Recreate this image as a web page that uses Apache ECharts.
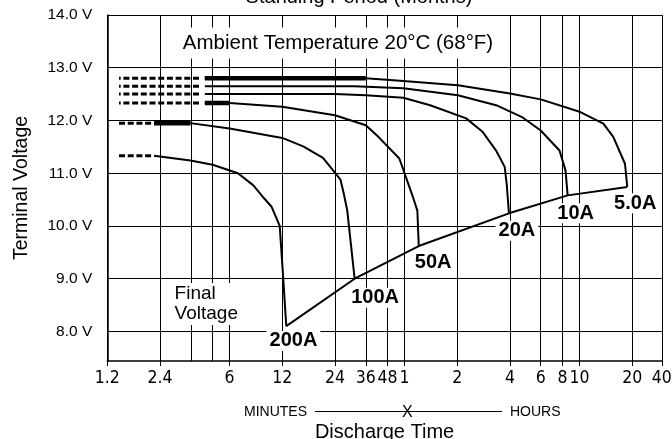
<!DOCTYPE html>
<html>
<head>
<meta charset="utf-8">
<title>Discharge Time vs Terminal Voltage</title>
<script src="https://cdn.jsdelivr.net/npm/echarts@6/dist/echarts.min.js"></script>
<style>
  html, body { margin: 0; padding: 0; background: #fff; }
  #chart { width: 672px; height: 439px; }
</style>
</head>
<body>
<div id="chart"></div>
<script>
// discharge time in minutes, terminal voltage in volts
const currents = ['5.0A', '10A', '20A', '50A', '100A', '200A']

const curve5A = [[4.33, 12.80], [36, 12.80], [59, 12.75], [121, 12.67], [240, 12.51], [360, 12.40], [607, 12.16], [821, 11.94], [935, 11.69], [1091, 11.18], [1124, 10.74]]
const curve10A = [[4.33, 12.65], [31, 12.65], [59, 12.61], [121, 12.48], [200, 12.29], [280, 12.07], [360, 11.81], [461, 11.43], [499, 11.05], [513, 10.58]]
const curve20A = [[4.33, 12.50], [24, 12.50], [36, 12.48], [59, 12.43], [84, 12.29], [135, 12.04], [168, 11.78], [200, 11.43], [224, 11.12], [230, 10.80], [237, 10.24]]
const curve50A = [[4.33, 12.33], [6, 12.33], [12, 12.26], [24, 12.10], [36, 11.91], [42.5, 11.69], [56, 11.28], [66, 10.61], [71, 10.29], [72.3, 9.62]]
const curve100A = [[2.22, 11.95], [3.58, 11.95], [6, 11.85], [12, 11.67], [15.8, 11.51], [20.5, 11.29], [24, 11.01], [25.8, 10.88], [27, 10.6], [28.2, 10.3], [31.1, 9.0]]
const curve200A = [[2.22, 11.33], [3.58, 11.24], [4.8, 11.16], [6.7, 11.0], [8.2, 10.77], [9.3, 10.55], [10.4, 10.37], [11.6, 10.0], [12.1, 9.1], [12.65, 8.1]]
const curves = [curve5A, curve10A, curve20A, curve50A, curve100A, curve200A]

// standing period (dashed) part of each curve
const standVolts = [12.80, 12.65, 12.50, 12.33, 11.95, 11.33]
const standStart = 1.40
const standEnd = [4.02, 4.02, 4.02, 4.02, 2.14, 2.14]

// heavy stroke at the start of some curves
const thickFrom = [4.33, null, null, 4.33, 2.22, null]
const thickTo = [36, null, null, 6, 3.58, null]

// label anchors [minutes, volts]
const curveLabelPos = [[1248, 10.43], [570, 10.24], [263, 9.91], [87.4, 9.30], [40.7, 8.64], [13.9, 7.82]]
const finalNotePos = [2.76, 8.52]

// axes
const xTicks = [1.2, 2.4, 6, 12, 24, 36, 48, 60, 120, 240, 360, 480, 600, 1200, 1771]
const xTickLabels = ['1.2', '2.4', '6', '12', '24', '36', '48', '1', '2', '4', '6', '8', '10', '20', '40']
const extraGrid = [3.6, 4.8]
const yTicks = [8, 9, 10, 11, 12, 13, 14]

const font = "'Liberation Sans', Arial, sans-serif"
const narrow = "'Liberation Sans Narrow', 'DejaVu Sans Condensed', 'Liberation Sans', Arial, sans-serif"

const chart = echarts.init(document.getElementById('chart'))

const series = []
curves.forEach((c, i) => {
  // 放置期 虚线
  series.push({
    type: 'line',
    data: [[standStart, standVolts[i]], [standEnd[i], standVolts[i]]],
    symbol: 'none',
    silent: true,
    lineStyle: { color: '#000', width: 3, type: [6, 2.7], dashOffset: i < 4 ? 4.3 : 0, cap: 'butt' }
  })
  series.push({
    type: 'line',
    data: c,
    symbol: 'none',
    silent: true,
    lineStyle: { color: '#000', width: 2 },
    markLine: i === 0 ? {
      symbol: 'none',
      silent: true,
      label: { show: false },
      lineStyle: { color: '#000', width: 1, type: 'solid' },
      data: extraGrid.map(v => ({ xAxis: v }))
    } : undefined
  })
  if (thickFrom[i] !== null) {
    series.push({
      type: 'line',
      data: [[thickFrom[i], standVolts[i]], [thickTo[i], standVolts[i]]],
      symbol: 'none',
      silent: true,
      lineStyle: { color: '#000', width: 4.5, cap: 'butt' }
    })
  }
})

// final voltage line through the curve end points
series.push({
  type: 'line',
  data: curves.map(c => c[c.length - 1]).reverse(),
  symbol: 'none',
  silent: true,
  lineStyle: { color: '#000', width: 2 }
})

// 标签
series.push({
  type: 'scatter',
  symbolSize: 0,
  silent: true,
  z: 5,
  itemStyle: { opacity: 1 },
  data: curveLabelPos.map((p, i) => ({ name: currents[i], value: p })),
  label: {
    show: true,
    position: 'inside',
    formatter: '{b}',
    color: '#000',
    opacity: 1,
    textBorderWidth: 0,
    fontFamily: font,
    fontSize: 20,
    fontWeight: 'bold',
    backgroundColor: '#fff',
    padding: [0, 3]
  }
})
series.push({
  type: 'scatter',
  symbolSize: 0,
  silent: true,
  z: 5,
  itemStyle: { opacity: 1 },
  data: [{ name: 'Final\nVoltage', value: finalNotePos }],
  label: {
    show: true,
    position: 'right',
    distance: 0,
    formatter: '{b}',
    align: 'left',
    color: '#000',
    opacity: 1,
    fontFamily: font,
    fontSize: 19,
    lineHeight: 20,
    backgroundColor: '#fff',
    padding: [1, 4]
  }
})

const option = {
  animation: false,
  title: [
    {
      text: 'Standing Period (Months)',
      left: 359,
      top: -13,
      textAlign: 'center',
      padding: 0,
      textStyle: { color: '#000', fontFamily: font, fontSize: 20, fontWeight: 'normal' }
    },
    {
      text: 'Ambient Temperature 20°C (68°F)',
      left: 330,
      top: 28,
      textAlign: 'center',
      padding: [5, 8],
      backgroundColor: '#fff',
      textStyle: { color: '#000', fontFamily: font, fontSize: 20.5, fontWeight: 'normal', lineHeight: 20 }
    }
  ],
  grid: { left: 107.3, right: 10.2, top: 15, bottom: 78, containLabel: false, outerBoundsMode: 'none' },
  xAxis: {
    type: 'log',
    logBase: 10,
    min: 1.1999,
    max: 1771.1,
    name: 'Discharge Time',
    nameLocation: 'middle',
    nameGap: 61,
    nameTextStyle: { color: '#000', fontFamily: font, fontSize: 20 },
    axisLine: { show: true, lineStyle: { color: '#000', width: 1.5 } },
    axisTick: { show: true, length: 5, lineStyle: { color: '#000' }, customValues: xTicks },
    axisLabel: {
      customValues: xTicks,
      margin: 8,
      color: '#000',
      fontFamily: narrow,
      fontSize: 17.5,
      formatter: v => {
        const k = xTicks.findIndex(t => Math.abs(t - v) / t < 1e-6)
        return k >= 0 ? xTickLabels[k] : ''
      }
    },
    splitLine: { show: true, lineStyle: { color: '#000', width: 1 }, customValues: xTicks },
    minorTick: { show: false },
    minorSplitLine: { show: false }
  },
  yAxis: {
    type: 'value',
    min: 7.44,
    max: 14,
    name: 'Terminal Voltage',
    nameLocation: 'middle',
    nameRotate: 90,
    nameGap: 76,
    nameTextStyle: { color: '#000', fontFamily: font, fontSize: 19.5 },
    axisLine: { show: true, lineStyle: { color: '#000', width: 1.5 } },
    axisTick: { show: false, customValues: yTicks },
    axisLabel: {
      customValues: yTicks,
      margin: 15,
      color: '#000',
      fontFamily: font,
      fontSize: 15.5,
      formatter: v => v.toFixed(1) + ' V'
    },
    splitLine: { show: true, lineStyle: { color: '#000', width: 1 }, customValues: yTicks }
  },
  graphic: [
    { type: 'text', left: 244, top: 405, style: { text: 'MINUTES', font: "14px 'Liberation Sans', Arial", fill: '#000' } },
    { type: 'line', shape: { x1: 315, y1: 411.5, x2: 502, y2: 411.5 }, style: { stroke: '#000', lineWidth: 1 } },
    { type: 'text', left: 402, top: 405, style: { text: 'X', font: "16px 'Liberation Sans', Arial", fill: '#000' } },
    { type: 'text', left: 510, top: 405, style: { text: 'HOURS', font: "14px 'Liberation Sans', Arial", fill: '#000' } }
  ],
  series
}

chart.setOption(option)
</script>
</body>
</html>
